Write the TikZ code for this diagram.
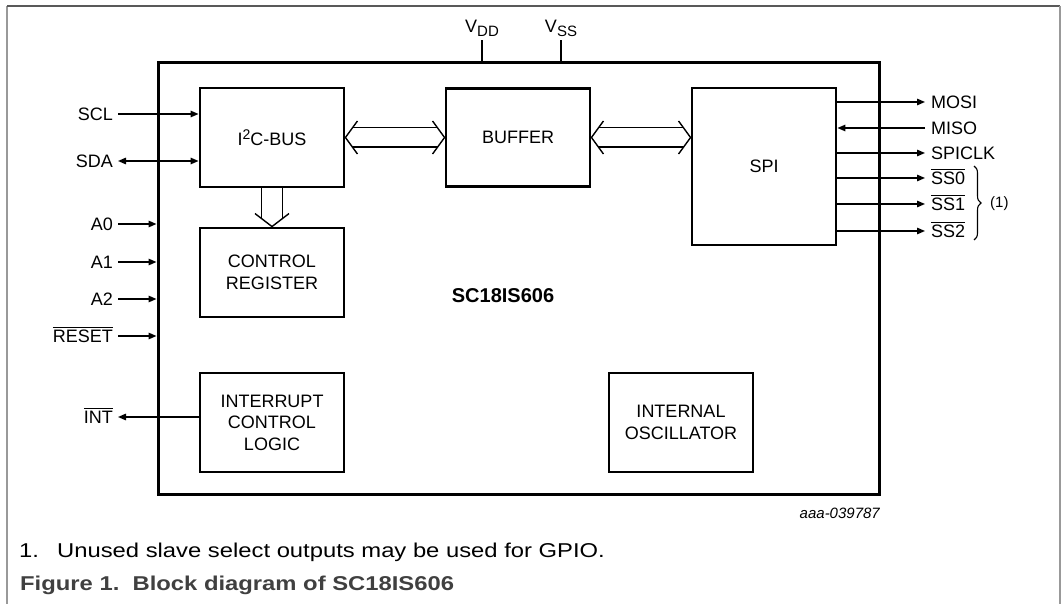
\documentclass[tikz,border=0pt]{standalone}
\usepackage{fontspec}
\usepackage{graphicx}
\setmainfont{Liberation Sans}
\usetikzlibrary{arrows.meta,calc,decorations.pathreplacing}
\newcommand{\mylbl}{\fontsize{18}{21.5}\selectfont}
\newcommand{\mysmall}{\fontsize{15}{17}\selectfont}
\newcommand{\mycap}{\fontsize{20}{24}\selectfont}
\newcommand{\ovl}[1]{\leavevmode\vbox{\hrule height 1.2pt\kern 2.2pt\hbox{#1}}}
\newcommand{\mybusH}[2]{%
  \draw[bus] ($(#1)+(12,-16.5)$) -- (#1) -- ($(#1)+(12,16.5)$);
  \draw[bus] ($(#2)+(-12,-16.5)$) -- (#2) -- ($(#2)+(-12,16.5)$);
  \draw[bus] ($(#1)+(6.9,-9.7)$) -- ($(#2)+(-6.9,-9.7)$);
  \draw[bus] ($(#1)+(6.9,9.7)$) -- ($(#2)+(-6.9,9.7)$);}
\newcommand{\mybusV}[2]{%
  \draw[bus] ($(#2)+(-17,-13)$) -- (#2) -- ($(#2)+(17,-13)$);
  \draw[bus] ($(#1)+(-10.7,0)$) -- ($(#2)+(-10.7,-8.2)$);
  \draw[bus] ($(#1)+(10.7,0)$) -- ($(#2)+(10.7,-8.2)$);}
\definecolor{capgray}{HTML}{404040}
\begin{document}
\begin{tikzpicture}[x=1pt,y=-1pt,
  blk/.style={draw,line width=2.9pt,minimum width=144pt,inner sep=0pt,align=center,font=\mylbl},
  lblL/.style={anchor=east,inner sep=0pt,font=\mylbl,text height=13pt,text depth=0pt},
  lblR/.style={anchor=west,inner sep=0pt,font=\mylbl,text height=13pt,text depth=0pt},
  sig/.style={line width=1.4pt},
  tip/.style={-{Triangle[length=8pt,width=6.5pt]}},
  bus/.style={line width=1.4pt,line join=miter},
  txt/.style={inner sep=0pt}]
\useasboundingbox (0,0) rectangle (1061,604);
% frame
\draw[black!40,line width=1.2pt] (7,604) -- (7,6);
\draw[black!65,line width=1.2pt] (7,6) -- (1060,6);
\draw[black!40,line width=1.2pt] (1060,6) -- (1060,604);
% chip
\node[draw,line width=3pt,minimum width=721pt,minimum height=431pt,inner sep=0pt] (chip) at (518.5,278.5) {};
\node[txt,font=\fontsize{20}{24}\selectfont\bfseries] (name) at (503,296) {SC18IS606};
% blocks
\node[blk,minimum height=99pt] (i2c) at (272,137.5) {I\raisebox{6pt}{\fontsize{14}{14}\selectfont 2}C-BUS};
\node[blk,minimum height=98pt] (buf) at (518,137.5) {BUFFER};
\node[blk,minimum height=157pt] (spi) at (764,166.5) {SPI};
\node[blk,minimum height=89pt] (ctrl) at (272,272.5) {CONTROL\\REGISTER};
\node[blk,minimum height=99pt] (intc) at (272,422.5) {INTERRUPT\\CONTROL\\LOGIC};
\node[blk,minimum height=99pt] (osc) at (681,422.5) {INTERNAL\\OSCILLATOR};
% supply
\node[txt,font=\mylbl,anchor=base] (vdd) at (482,33) {V\raisebox{-4pt}{\mysmall DD}};
\node[txt,font=\mylbl,anchor=base] (vss) at (561,33) {V\raisebox{-4pt}{\mysmall SS}};
\draw[sig] ($(vdd.south)+(0,3)$) -- (vdd.south |- chip.north);
\draw[sig] ($(vss.south)+(0,3)$) -- (vss.south |- chip.north);
% left labels
\node[lblL] (scl) at (113,114) {SCL};
\node[lblL] (sda) at (113,161) {SDA};
\node[lblL] (a0) at (113,224) {A0};
\node[lblL] (a1) at (113,262) {A1};
\node[lblL] (a2) at (113,299) {A2};
\node[lblL] (rst) at (113,336) {\ovl{RESET}};
\node[lblL] (int) at (113,417) {\ovl{INT}};
\draw[sig,tip] ($(scl.east)+(5,0)$) -- (scl.east -| i2c.west);
\draw[sig,{Triangle[length=8pt,width=6.5pt]}-{Triangle[length=8pt,width=6.5pt]}] ($(sda.east)+(5,0)$) -- (sda.east -| i2c.west);
\draw[sig,tip] ($(a0.east)+(5,0)$) -- (a0.east -| chip.west);
\draw[sig,tip] ($(a1.east)+(5,0)$) -- (a1.east -| chip.west);
\draw[sig,tip] ($(a2.east)+(5,0)$) -- (a2.east -| chip.west);
\draw[sig,tip] ($(rst.east)+(5,0)$) -- (rst.east -| chip.west);
\draw[sig,tip] (int.east -| intc.west) -- ($(int.east)+(5,0)$);
% right labels
\node[lblR] (mosi) at (931,102) {MOSI};
\node[lblR] (miso) at (931,128) {MISO};
\node[lblR] (sclk) at (931,153) {SPICLK};
\node[lblR] (ss0) at (931,178) {\ovl{SS0}};
\node[lblR] (ss1) at (931,204) {\ovl{SS1}};
\node[lblR] (ss2) at (931,231) {\ovl{SS2}};
\draw[sig,tip] (mosi.west -| spi.east) -- ($(mosi.west)+(-6,0)$);
\draw[sig,tip] ($(miso.west)+(-6,0)$) -- (miso.west -| spi.east);
\draw[sig,tip] (sclk.west -| spi.east) -- ($(sclk.west)+(-6,0)$);
\draw[sig,tip] (ss0.west -| spi.east) -- ($(ss0.west)+(-6,0)$);
\draw[sig,tip] (ss1.west -| spi.east) -- ($(ss1.west)+(-6,0)$);
\draw[sig,tip] (ss2.west -| spi.east) -- ($(ss2.west)+(-6,0)$);
\coordinate (brt) at (974,166);
\coordinate (brb) at (974,240);
\draw[line width=1.1pt,decorate,decoration={brace,amplitude=7pt}] (brt) -- (brb);
\node[txt,font=\mysmall,anchor=west] (note) at (990,204) {(1)};
% buses
\mybusH{i2c.east}{buf.west}
\mybusH{buf.east}{spi.west |- buf.east}
\mybusV{i2c.south}{ctrl.north}
% captions
\node[txt,font=\mysmall\itshape,anchor=base east] (code) at (880,518) {aaa-039787};
\node[txt,font=\mycap,anchor=base west] (n1) at (19,557) {\scalebox{1.19}[1]{1.}};
\node[txt,font=\mycap,anchor=base west] (n1t) at (57,557) {\scalebox{1.19}[1]{Unused slave select outputs may be used for GPIO.}};
\node[txt,font=\mycap\bfseries,anchor=base west,text=capgray] (fig) at (20,590) {\scalebox{1.19}[1]{Figure 1.\ \ Block diagram of SC18IS606}};
\end{tikzpicture}
\end{document}
